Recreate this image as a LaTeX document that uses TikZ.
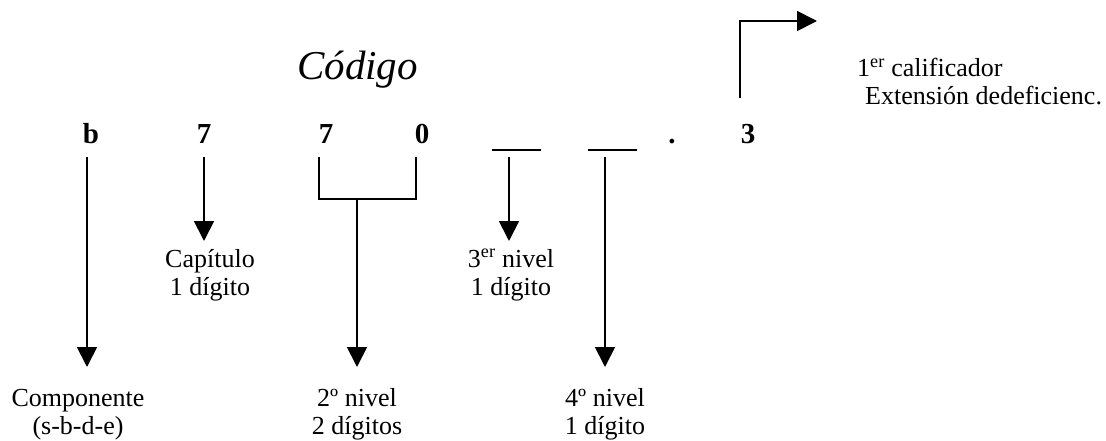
\documentclass[tikz,border=0pt]{standalone}
\usepackage{fontspec}
\setmainfont{Liberation Serif}
\usetikzlibrary{arrows.meta}
\begin{document}
\begin{tikzpicture}[x=1pt,y=-1pt,
  line/.style={line width=1.8pt},
  arr/.style={line width=1.8pt,-{Triangle[width=20pt,length=20pt]}},
  dig/.style={font=\fontsize{29}{32}\selectfont\bfseries, inner sep=0pt, anchor=base},
  lab/.style={font=\fontsize{26}{30}\selectfont, inner sep=0pt, anchor=base}]
\useasboundingbox (0,0) rectangle (1106,441);

% title
\node[font=\fontsize{41}{48}\selectfont\itshape, inner sep=0pt, anchor=base west] (title) at (297,80) {Código};

% code characters
\node[dig] (b) at (91,144) {b};
\node[dig] (s1) at (204,144) {7};
\node[dig] (s2) at (326,144) {7};
\node[dig] (z) at (422,144) {0};
\node[dig] (dot) at (672,144) {.};
\node[dig] (three) at (748,144) {3};

% blanks
\coordinate (u1a) at (492,150); \coordinate (u1b) at (541,150);
\coordinate (u2a) at (588,150); \coordinate (u2b) at (637,150);
\draw[line] (u1a) -- (u1b);
\draw[line] (u2a) -- (u2b);

% labels
\node[lab] (cap1) at (210,267) {Capítulo};
\node[lab] (cap2) at (210,295) {1 dígito};
\node[lab] (n31) at (511,267) {3\textsuperscript{er} nivel};
\node[lab] (n32) at (511,295) {1 dígito};
\node[lab] (comp1) at (78,406) {Componente};
\node[lab] (comp2) at (78,434) {(s-b-d-e)};
\node[lab] (n21) at (357,406) {2º nivel};
\node[lab] (n22) at (357,434) {2 dígitos};
\node[lab] (n41) at (605,406) {4º nivel};
\node[lab] (n42) at (605,434) {1 dígito};
\node[lab, anchor=base west] (q1) at (857,77) {1\textsuperscript{er} calificador};
\node[lab, anchor=base west] (q2) at (865,105) {Extensión dedeficienc.};

% connectors
\coordinate (bt) at (87,157);   \coordinate (bh) at (87,367);
\coordinate (s1t) at (204,157); \coordinate (s1h) at (204,241);
\coordinate (brl) at (319,157); \coordinate (brr) at (416,157);
\coordinate (brm) at (357,199); \coordinate (brh) at (357,367);
\coordinate (n3t) at (509,157); \coordinate (n3h) at (509,241);
\coordinate (n4t) at (605,157); \coordinate (n4h) at (605,367);
\coordinate (qt) at (740,98);   \coordinate (qh) at (817,21);

\draw[arr] (bt) -- (bh);
\draw[arr] (s1t) -- (s1h);
\draw[line] (brl) |- (brm) -| (brr);
\draw[arr] (brm) -- (brh);
\draw[arr] (n3t) -- (n3h);
\draw[arr] (n4t) -- (n4h);
\draw[arr] (qt) |- (qh);
\end{tikzpicture}
\end{document}
